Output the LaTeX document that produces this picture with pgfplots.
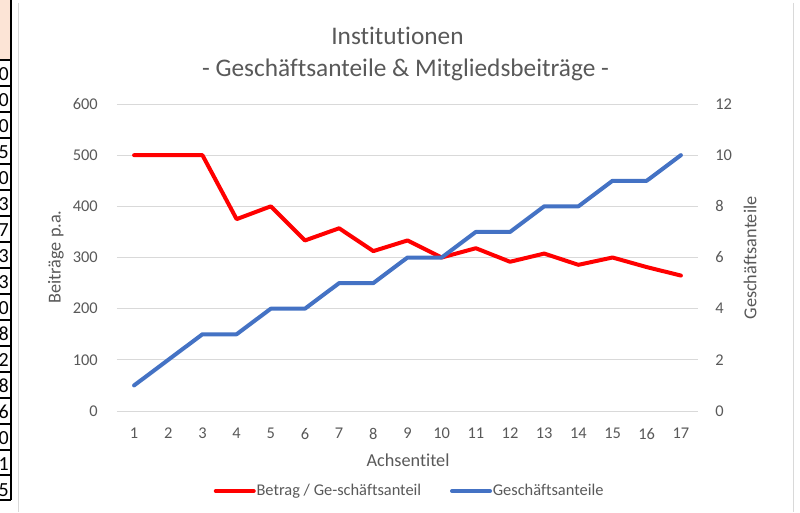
\documentclass[border=0pt]{standalone}
\usepackage{pgfplots}
\pgfplotsset{compat=1.18}
\usepackage{fontspec}
\setmainfont{Carlito}[Ligatures=NoCommon]
\definecolor{txt}{HTML}{595959}
\definecolor{gridc}{HTML}{D9D9D9}
\definecolor{cred}{HTML}{FF0000}
\definecolor{cblue}{HTML}{4472C4}
\definecolor{peach}{HTML}{FCE4D6}

\pgfplotstableread{
x y
1 500
2 500
3 500
4 375
5 400
6 333.33
7 357.14
8 312.5
9 333.33
10 300
11 318.18
12 291.67
13 307.69
14 285.71
15 300
16 281.25
17 264.71
}\betrag

\pgfplotstableread{
x y
1 1
2 2
3 3
4 3
5 4
6 4
7 5
8 5
9 6
10 6
11 7
12 7
13 8
14 8
15 9
16 9
17 10
}\anteile

\begin{document}
\begin{tikzpicture}[x=0.75pt,y=0.75pt]
\useasboundingbox (0,0) rectangle (800,512);
\fill[white] (0,0) rectangle (800,512);
% spreadsheet strip at the left
\fill[peach] (0,512) rectangle (11,452);
\begin{scope}
\clip (0,0) rectangle (11,512);
\foreach \d [count=\i] in {0,0,0,5,0,3,7,3,3,0,8,2,8,6,0,1,5} {
  \node[anchor=base east, inner sep=0pt, font=\fontsize{15}{18}\selectfont] at (9, {512-60-26*\i+6}) {\d};
}
\end{scope}
\foreach \yy in {60,86,112,138,164,190,216,242,268,294,320,346,372,398,424,450,475,500} {
  \draw[black, line width=0.9pt] (0,512-\yy) -- (11,512-\yy);
}
\draw[black, line width=1.1pt] (11,512) -- (11,12);
\draw[gridc, line width=0.75pt] (18,509) -- (18,0);
\draw[gridc, line width=0.75pt] (793,509) -- (793,0);

\begin{axis}[
  at={(87.75pt,75.75pt)}, anchor=south west,
  scale only axis, width=435.75pt, height=230.25pt,
  xmin=0.5, xmax=17.5, ymin=0, ymax=600,
  xtick={1,...,17}, ytick={0,100,...,600},
  ymajorgrids, grid style={gridc, line width=0.75pt},
  axis line style={draw=none}, major tick style={draw=none},
  tick label style={font=\fontsize{12.3}{14}\selectfont, text=txt, /pgf/number format/assume math mode=true},
  yticklabel style={inner sep=0pt, xshift=-14.25pt},
  xticklabel style={inner sep=0pt, yshift=-12.75pt},
  clip=false,
  legend columns=2,
  legend style={at={(0.5026,-0.2606)}, anchor=center, draw=none, fill=none,
    font=\fontsize{12.3}{14}\selectfont, text=txt,
    nodes={inner sep=0.6pt},
    /tikz/every even column/.append style={column sep=21pt}},
  legend image code/.code={\draw[#1, line width=3pt, line cap=round] (0pt,0pt) -- (28.5pt,0pt);},
]
\addplot[cred, line width=3pt, line cap=round, line join=round] table[x=x,y=y] {\betrag};
\addlegendentry{Betrag / Ge-schäftsanteil}
\addlegendimage{cblue, line width=3pt}
\addlegendentry{Geschäftsanteile}
\end{axis}

\begin{axis}[
  at={(87.75pt,75.75pt)}, anchor=south west,
  scale only axis, width=435.75pt, height=230.25pt,
  xmin=0.5, xmax=17.5, ymin=0, ymax=12,
  ytick={0,2,...,12},
  axis y line*=right, hide x axis,
  axis line style={draw=none}, major tick style={draw=none},
  tick label style={font=\fontsize{12.3}{14}\selectfont, text=txt, /pgf/number format/assume math mode=true},
  yticklabel style={inner sep=0pt, xshift=12.75pt},
  clip=false,
]
\addplot[cblue, line width=3pt, line cap=round, line join=round] table[x=x,y=y] {\anteile};
\end{axis}

% titles
\node[anchor=base, inner sep=0pt, text=txt, font=\fontsize{19}{22}\selectfont] at (397.5,512-44) {Institutionen};
\node[anchor=base, inner sep=0pt, text=txt, font=\fontsize{19}{22}\selectfont] at (405.5,512-76.7) {- Geschäftsanteile \& Mitgliedsbeiträge -};
\node[anchor=base, inner sep=0pt, text=txt, font=\fontsize{13.67}{16}\selectfont] at (408,512-466.7) {Achsentitel};
\node[rotate=90, anchor=center, inner sep=0pt, text=txt, font=\fontsize{13.67}{16}\selectfont] at (56,512-257) {Beiträge p.a.};
\node[rotate=90, anchor=center, inner sep=0pt, text=txt, font=\fontsize{13.67}{16}\selectfont] at (750,512-258) {Geschäftsanteile};
\end{tikzpicture}
\end{document}
